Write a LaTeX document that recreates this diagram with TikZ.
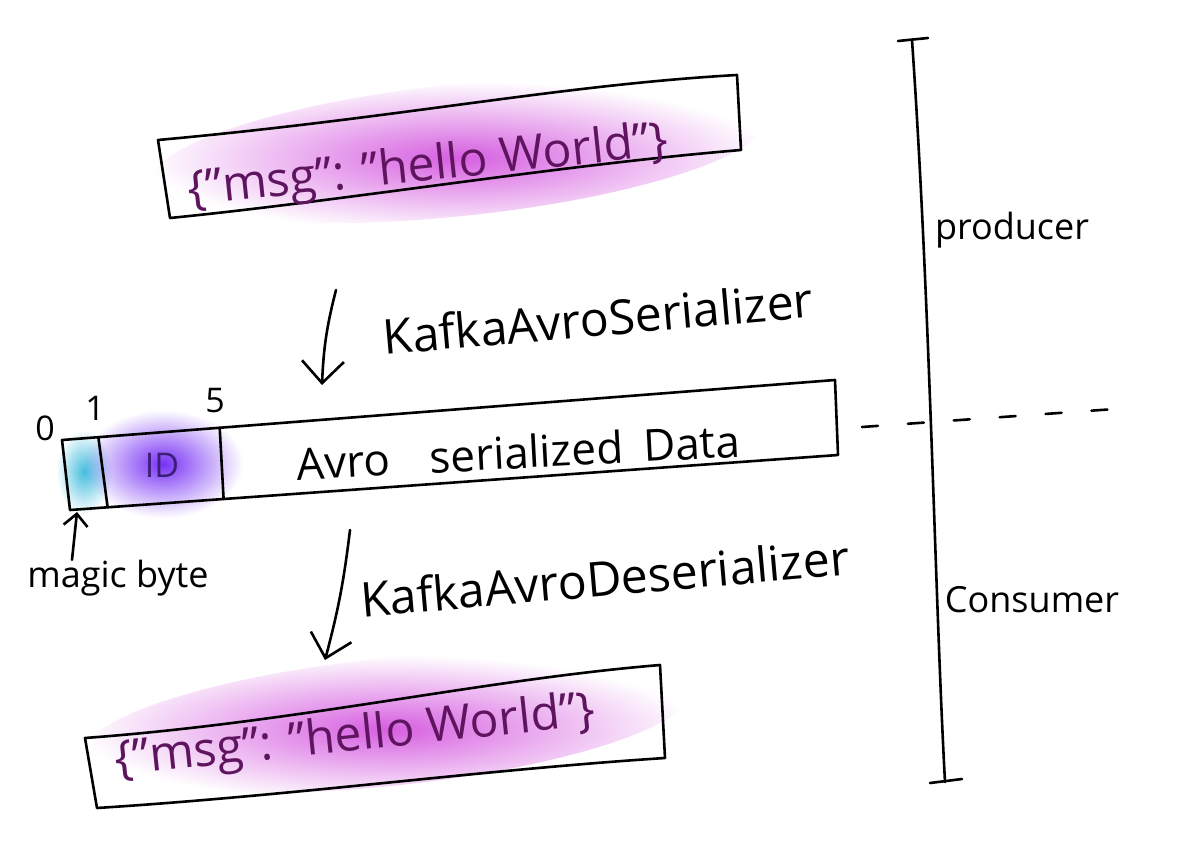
\documentclass[tikz,border=0pt]{standalone}
\usepackage{fontspec}
\setmainfont{Open Sans}
\usetikzlibrary{arrows.meta, positioning, calc, fadings}
\definecolor{msgglow}{RGB}{214,95,224}
\definecolor{msgink}{RGB}{95,20,95}
\definecolor{idglow}{RGB}{120,50,245}
\definecolor{idink}{RGB}{60,30,120}
\definecolor{magicglow}{RGB}{70,190,222}
\tikzfading[name=glow fade, inner color=transparent!0, outer color=transparent!100]
\tikzset{
  pen/.style={line width=2.6pt, line cap=round, line join=round},
  big head/.style={-{Straight Barb[length=22pt,width=42pt]}},
  small head/.style={-{Straight Barb[length=12pt,width=24pt]}},
  % textes
  hand/.style={font=\fontsize{48}{52}\selectfont, inner sep=0pt},
  json/.style={hand, text=msgink},
  side hand/.style={font=\fontsize{36}{40}\selectfont, inner sep=0pt},
  small hand/.style={font=\fontsize{34}{38}\selectfont, inner sep=0pt},
  glow/.style={fill=#1, path fading=glow fade}
}
\begin{document}
\begin{tikzpicture}[x=1pt,y=-1pt]
  \useasboundingbox (0,0) rectangle (1198,858);
  % halos
  \fill[glow=msgglow, rotate around={6:(460,150)}] (460,150) ellipse (310 and 66);
  \fill[glow=msgglow, rotate around={6:(388,722)}] (388,722) ellipse (305 and 64);
  \fill[glow=magicglow] (84,472) ellipse (28 and 42);
  \fill[glow=idglow] (163,464) ellipse (80 and 54);
  % message du producteur
  \draw[pen] (158,140) .. controls (400,118) and (560,85) .. (737,75) -- (741,150)
    .. controls (560,165) and (350,200) .. (170,218) -- cycle;
  \node[json, rotate=6] (msg top) at (428,168) {\{"msg": "hello World"\}};
  % serializer
  \coordinate (ser start) at (336,290);
  \coordinate (ser end) at (322,385);
  \draw[pen, big head] (ser start) to[bend right=6] (ser end);
  \node[hand, rotate=5] (ser) at (598,318) {KafkaAvroSerializer};
  % message serialise
  \coordinate (box tl) at (62,440);
  \coordinate (box tr) at (835,380);
  \coordinate (box br) at (838,455);
  \coordinate (box bl) at (70,510);
  \draw[pen] (box tl) -- (box tr) -- (box br) -- (box bl) -- cycle;
  \draw[pen] ($(box tl)!0.047!(box tr)$) -- ($(box bl)!0.049!(box br)$);
  \draw[pen] ($(box tl)!0.204!(box tr)$) -- ($(box bl)!0.200!(box br)$);
  \node[small hand] (off zero) at (45,428) {0};
  \node[small hand] (off one) at (95,408) {1};
  \node[small hand] (off five) at (215,401) {5};
  \node[small hand, text=idink] (id) at (162,465) {ID};
  \node[hand, font=\fontsize{44}{48}\selectfont, rotate=3] (avro) at (518,452)
    {Avro\hspace{40pt}serialized\hspace{20pt}Data};
  \node[side hand] (magic) at (118,578) {magic byte};
  \coordinate (magic tip) at (77,512);
  \draw[pen, small head] ([xshift=-46pt]magic.north) -- (magic tip);
  % deserializer
  \coordinate (deser start) at (350,530);
  \coordinate (deser end) at (325,660);
  \draw[pen, big head] (deser start) to[bend left=4] (deser end);
  \node[hand, rotate=5] (deser) at (605,578) {KafkaAvroDeserializer};
  % message du consommateur
  \draw[pen] (85,738) .. controls (300,722) and (480,680) .. (660,665) -- (665,758)
    .. controls (480,770) and (300,795) .. (97,808) -- cycle;
  \node[json, rotate=6] (msg bottom) at (355,738) {\{"msg": "hello World"\}};
  % producer / consumer
  \coordinate (time top) at (912,40);
  \coordinate (time bottom) at (945,782);
  \draw[pen] (898,41) -- (928,38);
  \draw[pen] (930,783) -- (962,779);
  \draw[pen] (time top) .. controls (930,300) and (935,600) .. (time bottom);
  \coordinate (split left) at (862,427);
  \coordinate (split right) at (1115,409);
  \draw[pen, dash pattern=on 16pt off 30pt] (split left) -- (split right);
  \node[side hand] (producer) at (1012,230) {producer};
  \node[side hand] (consumer) at (1032,600) {Consumer};
\end{tikzpicture}
\end{document}
